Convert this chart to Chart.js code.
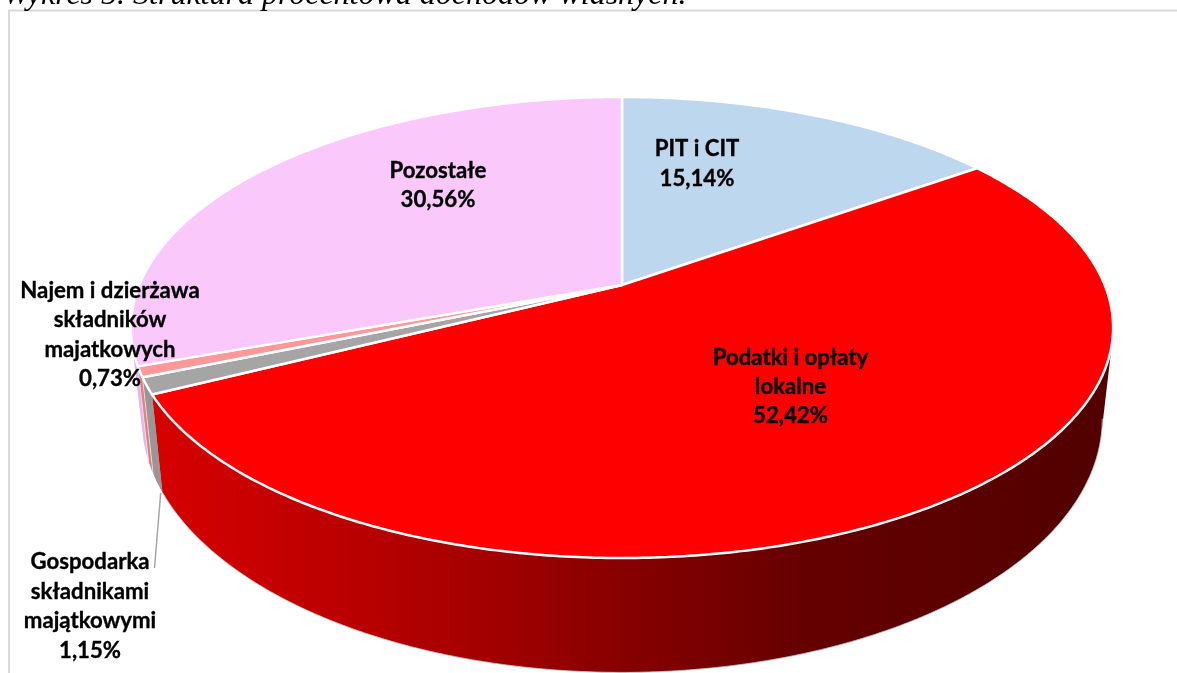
<!DOCTYPE html>
<html lang="pl">
<head>
<meta charset="utf-8">
<title>Wykres 5</title>
<style>
html,body{margin:0;padding:0;background:#fff;overflow:hidden}
canvas{display:block}
</style>
<script src="https://cdn.jsdelivr.net/npm/chart.js@4"></script>
</head>
<body>
<canvas id="c" width="1177" height="673"></canvas>
<script>
const heading = 'Wykres 5. Struktura procentowa dochodów własnych.';
const categories = ['PIT i CIT', 'Podatki i opłaty lokalne', 'Gospodarka składnikami majątkowymi', 'Najem i dzierżawa składników majatkowych', 'Pozostałe'];
const values = [15.14, 52.42, 1.15, 0.73, 30.56];
const valueLabels = ['15,14%', '52,42%', '1,15%', '0,73%', '30,56%'];
const categoryLines = [
  ['PIT i CIT'],
  ['Podatki i opłaty', 'lokalne'],
  ['Gospodarka', 'składnikami', 'majątkowymi'],
  ['Najem i dzierżawa', 'składników', 'majatkowych'],
  ['Pozostałe']
];
const topColors = ['#BDD7EE', '#FF0000', '#A5A5A5', '#FF9999', '#FBC8FB'];
const wallColors = ['#8fa8be', '#C00000', '#979797', '#E87C7C', '#DDB8F0'];

// presentation only
const labelAnchors = [[697, 149, 30], [790.5, 358, 29], [90, 562, 29.5], [110, 291, 29.3], [438, 171, 29]];
const topFace = {cx: 622, cy: 285, a: 482.7, b: 222.7, p: -0.1844};
const baseFace = {cx: 622, cy: 372, a: 472, b: 245, p: -0.1844};

function project(face, theta) {
  const u = Math.sin(theta), v = -Math.cos(theta), d = 1 + face.p * v;
  return [face.cx + face.a * u / d, face.cy + face.b * v / d];
}
function traceRim(ctx, face, t0, t1, move) {
  const n = Math.max(2, Math.ceil(Math.abs(t1 - t0) / 0.01));
  for (let i = 0; i <= n; i++) {
    const pt = project(face, t0 + (t1 - t0) * i / n);
    if (i === 0 && move) ctx.moveTo(pt[0], pt[1]); else ctx.lineTo(pt[0], pt[1]);
  }
}
function signedArea(q) {
  let s = 0;
  q.forEach((pt, i) => {
    const nx = q[(i + 1) % q.length];
    s += pt[0] * nx[1] - nx[0] * pt[1];
  });
  return s;
}
// Slices stay Chart.js arc elements; only their outline is projected.
Chart.ArcElement.prototype.draw = function (ctx) {
  const t0 = this.startAngle + Math.PI / 2, t1 = this.endAngle + Math.PI / 2;
  ctx.save();
  ctx.beginPath();
  ctx.moveTo(topFace.cx, topFace.cy);
  traceRim(ctx, topFace, t0, t1, false);
  ctx.closePath();
  ctx.fillStyle = this.options.backgroundColor;
  ctx.fill();
  ctx.lineJoin = 'round';
  ctx.lineWidth = 2.5;
  ctx.strokeStyle = '#fff';
  ctx.stroke();
  ctx.restore();
};

const depthPlugin = {
  id: 'depth',
  beforeDraw(chart) {
    const ctx = chart.ctx;
    ctx.save();
    ctx.strokeStyle = '#D9D9D9';
    ctx.lineWidth = 2;
    ctx.beginPath();
    ctx.moveTo(9, 673); ctx.lineTo(9, 10.5); ctx.lineTo(1177, 10.5);
    ctx.stroke();
    ctx.fillStyle = '#000';
    ctx.font = 'italic 32px "Liberation Serif"';
    ctx.textAlign = 'left';
    ctx.textBaseline = 'alphabetic';
    ctx.fillText(heading, 3, 3.5);
    ctx.restore();
  },
  beforeDatasetsDraw(chart) {
    const ctx = chart.ctx, arcs = chart.getDatasetMeta(0).data;
    const red = ctx.createLinearGradient(160, 0, 1100, 0);
    [[0, '#D60000'], [0.255, '#B20000'], [0.362, '#A00000'], [0.52, '#820000'], [0.68, '#660000'], [0.77, '#600000'], [1, '#520000']]
      .forEach(s => red.addColorStop(s[0], s[1]));
    [0, 4, 3, 2, 1].forEach(i => {
      const t0 = arcs[i].startAngle + Math.PI / 2, t1 = arcs[i].endAngle + Math.PI / 2;
      const n = Math.max(2, Math.ceil((t1 - t0) / 0.01));
      ctx.save();
      ctx.fillStyle = i === 1 ? red : wallColors[i];
      ctx.beginPath();
      for (let k = 0; k < n; k++) {
        const a = t0 + (t1 - t0) * k / n, b = t0 + (t1 - t0) * (k + 1) / n;
        let q = [project(topFace, a), project(topFace, b), project(baseFace, b), project(baseFace, a)];
        if (signedArea(q) < 0) q = q.reverse();
        ctx.moveTo(q[0][0], q[0][1]);
        ctx.lineTo(q[1][0], q[1][1]);
        ctx.lineTo(q[2][0], q[2][1]);
        ctx.lineTo(q[3][0], q[3][1]);
        ctx.closePath();
      }
      ctx.fill();
      if (i === 1) {
        ctx.beginPath();
        traceRim(ctx, baseFace, Math.acos(baseFace.p), t1, true);
        ctx.lineWidth = 1;
        ctx.strokeStyle = 'rgba(200,200,200,0.8)';
        ctx.stroke();
      }
      if (i === 2 || i === 3) {
        const e = project(topFace, t1), f = project(baseFace, t1);
        ctx.beginPath();
        ctx.moveTo(e[0], e[1]); ctx.lineTo(f[0], f[1]);
        ctx.lineWidth = 0.8;
        ctx.strokeStyle = 'rgba(255,255,255,0.7)';
        ctx.stroke();
      }
      ctx.restore();
    });
  },
  afterDatasetsDraw(chart) {
    const ctx = chart.ctx;
    ctx.save();
    ctx.strokeStyle = '#A6A6A6';
    ctx.lineWidth = 1.5;
    ctx.beginPath();
    ctx.moveTo(160.7, 493); ctx.lineTo(154.5, 568);
    ctx.stroke();
    ctx.fillStyle = '#000';
    ctx.strokeStyle = '#000';
    ctx.lineWidth = 0.35;
    ctx.font = 'bold 22.2px Lato';
    ctx.textAlign = 'center';
    ctx.textBaseline = 'middle';
    categoryLines.forEach((lines, i) => {
      const [x, y, step] = labelAnchors[i];
      lines.concat(valueLabels[i]).forEach((t, k) => {
        ctx.fillText(t, x, y + k * step);
        ctx.strokeText(t, x, y + k * step);
      });
    });
    ctx.restore();
  }
};

new Chart(document.getElementById('c'), {
  type: 'pie',
  data: {labels: categories, datasets: [{data: values, backgroundColor: topColors}]},
  options: {
    responsive: false,
    animation: false,
    rotation: 0,
    plugins: {legend: {display: false}, tooltip: {enabled: false}, title: {display: false}}
  },
  plugins: [depthPlugin]
});
</script>
</body>
</html>
